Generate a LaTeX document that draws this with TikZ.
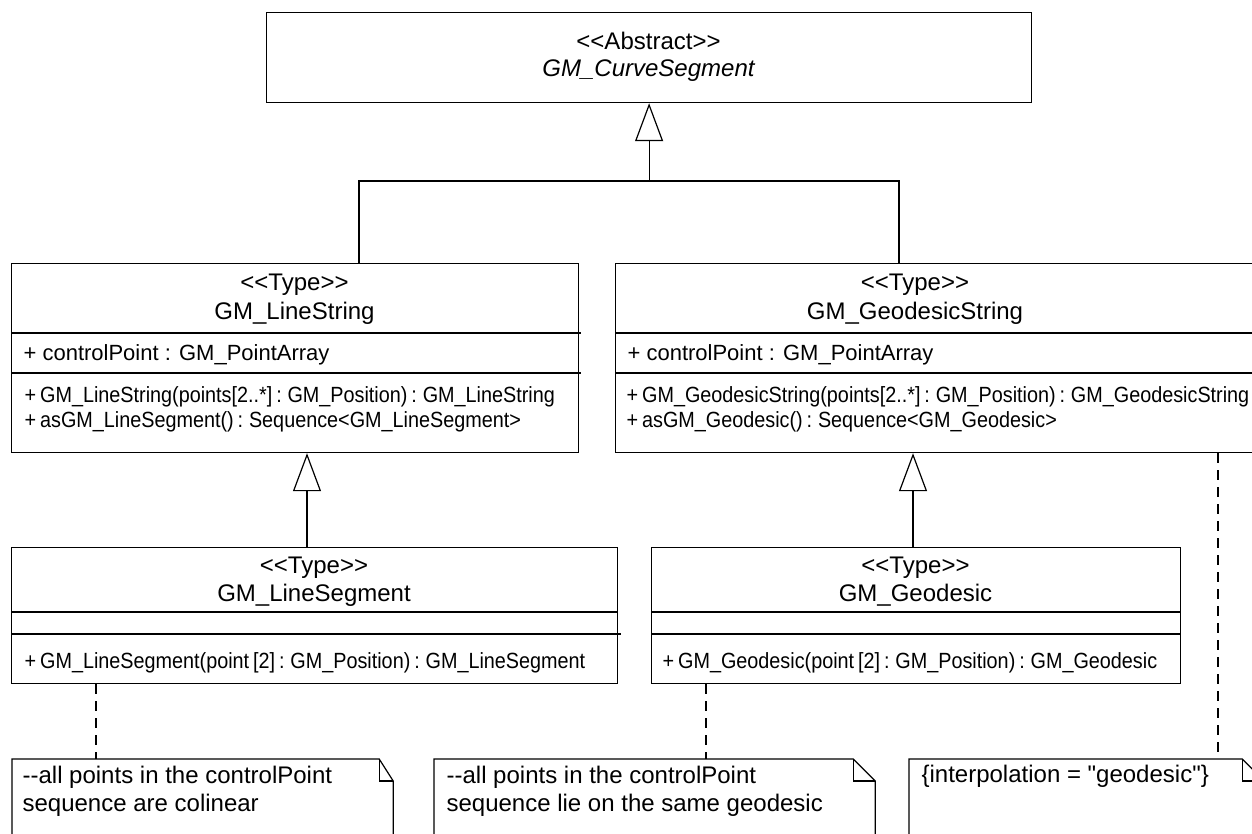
\documentclass[tikz,border=0pt]{standalone}
\usepackage{fontspec}
\setmainfont{Liberation Sans}[Ligatures=TeXOff]
\newfontfamily\opfont{Liberation Sans}[FakeStretch=0.9,Ligatures=TeXOff]
\usetikzlibrary{arrows.meta,calc}

\newcommand{\opsize}{\opfont\fontsize{11}{13}\selectfont\spaceskip=0.18em plus 0.05em\relax}
\newcommand{\umlnote}[2]{%
	\draw (#1.south west) -- (#1.north west) -- ($(#1.north east)+(-#2,0)$) -- ($(#1.north east)+(0,22)$) -- (#1.south east);
	\draw ($(#1.north east)+(-#2,0)$) -- ++(0,22) -- ($(#1.north east)+(0,22)$);}

\begin{document}
\begin{tikzpicture}[x=0.5pt,y=-0.5pt,line width=0.6pt]
		\tikzstyle{every node}=[inner sep=0pt]
		\tikzstyle{classbox}=[draw, rectangle, anchor=north west]
		\tikzstyle{stereo}=[anchor=base, font=\fontsize{12}{14}\selectfont]
		\tikzstyle{attr}=[anchor=base west, font=\fontsize{11}{13}\selectfont]
		\tikzstyle{oper}=[anchor=base west, font=\opsize]
		\tikzstyle{notebox}=[rectangle, anchor=north west, minimum height=60pt]
		\tikzstyle{notetext}=[anchor=base west, align=left, font=\fontsize{12}{14}\selectfont]
		\tikzstyle{inherit}=[-{Triangle[open,width=14pt,length=19pt]}]
		\tikzstyle{anchorline}=[dash pattern=on 5pt off 3.5pt]
		
		\useasboundingbox (0,0) rectangle (1252,834);
		\clip (0,0) rectangle (1252,834);
		
	% abstract super class
	\node[classbox, minimum width=382.5pt, minimum height=45pt] (cs) at (266,12) {};
	\node[stereo] at (648.5,50) {<<Abstract>>};
	\node[stereo, font=\fontsize{12}{14}\selectfont\itshape] at (648.5,77) {GM\_CurveSegment};
	
	% line string
	\node[classbox, minimum width=283.5pt, minimum height=94.5pt] (ls) at (11,263) {};
	\draw ($(ls.north west)+(0,70)$) -- ($(ls.north east)+(2,70)$);
	\draw ($(ls.north west)+(0,110)$) -- ($(ls.north east)+(2,110)$);
	\node[stereo] at (294.5,291) {<<Type>>};
	\node[stereo] at (294.5,319) {GM\_LineString};
	\node[attr] at (23,360) {+ controlPoint : GM\_PointArray};
	\node[oper] at (24,402) {+ GM\_LineString(points[2..*] : GM\_Position) : GM\_LineString};
	\node[oper] at (24,427) {+ asGM\_LineSegment() : Sequence<GM\_LineSegment>};
	
	% geodesic string
	\node[classbox, minimum width=323.5pt, minimum height=94.5pt] (gs) at (615,263) {};
	\draw ($(gs.north west)+(0,70)$) -- ($(gs.north east)+(0,70)$);
	\draw ($(gs.north west)+(0,110)$) -- ($(gs.north east)+(0,110)$);
	\node[stereo] at (915,291) {<<Type>>};
	\node[stereo] at (915,319) {GM\_GeodesicString};
	\node[attr] at (627,360) {+ controlPoint : GM\_PointArray};
	\node[oper] at (626,402) {+ GM\_GeodesicString(points[2..*] : GM\_Position) : GM\_GeodesicString};
	\node[oper] at (626,427) {+ asGM\_Geodesic() : Sequence<GM\_Geodesic>};
	
	% line segment
	\node[classbox, minimum width=303pt, minimum height=68pt] (lsg) at (11,547) {};
	\draw ($(lsg.north west)+(0,65)$) -- ($(lsg.north east)+(0,65)$);
	\draw ($(lsg.north west)+(0,87)$) -- ($(lsg.north east)+(3,87)$);
	\node[stereo] at (314,573) {<<Type>>};
	\node[stereo] at (314,601) {GM\_LineSegment};
	\node[oper] at (24,668) {+ GM\_LineSegment(point [2] : GM\_Position) : GM\_LineSegment};
	
	% geodesic
	\node[classbox, minimum width=264.5pt, minimum height=68pt] (gd) at (651,547) {};
	\draw ($(gd.north west)+(0,65)$) -- ($(gd.north east)+(0,65)$);
	\draw ($(gd.north west)+(0,87)$) -- ($(gd.north east)+(0,87)$);
	\node[stereo] at (915.5,573) {<<Type>>};
	\node[stereo] at (915.5,601) {GM\_Geodesic};
	\node[oper] at (662,668) {+ GM\_Geodesic(point [2] : GM\_Position) : GM\_Geodesic};
	
	% generalisation
	\coordinate (j1) at (359,181);
	\coordinate (j2) at (899,181);
	\coordinate (bar) at (cs.south |- j1);
	\draw (j1 |- ls.north) -- (j1) -- (j2) -- (j2 |- gs.north);
	\draw[inherit] (bar) -- (cs.south);
	\coordinate (g1) at (307,547);
	\coordinate (g2) at (913,547);
	\draw[inherit] (g1) -- (g1 |- ls.south);
	\draw[inherit] (g2) -- (g2 |- gs.south);
	
	% notes
	\node[notebox, minimum width=190pt] (n1) at (12,759) {};
	\node[notebox, minimum width=220pt] (n2) at (434,759) {};
	\node[notebox, minimum width=177pt] (n3) at (909,759) {};
	\umlnote{n1}{14}
	\umlnote{n2}{22}
	\umlnote{n3}{22}
	\node[notetext] at (22,811) {--all points in the controlPoint\\sequence are colinear};
	\node[notetext] at (446,811) {--all points in the controlPoint\\sequence lie on the same geodesic};
	\node[notetext] at (921,782) {\{interpolation = "geodesic"\}};
	
	\coordinate (d1) at ($(lsg.south west)+(85,0)$);
	\coordinate (d2) at ($(gd.south west)+(55,0)$);
	\coordinate (d3) at ($(gs.south west)+(603,0)$);
	\draw[anchorline] (d1) -- (d1 |- n1.north);
	\draw[anchorline] (d2) -- (d2 |- n2.north);
	\draw[anchorline] (d3) -- (d3 |- n3.north);
		
\end{tikzpicture}
\end{document}
